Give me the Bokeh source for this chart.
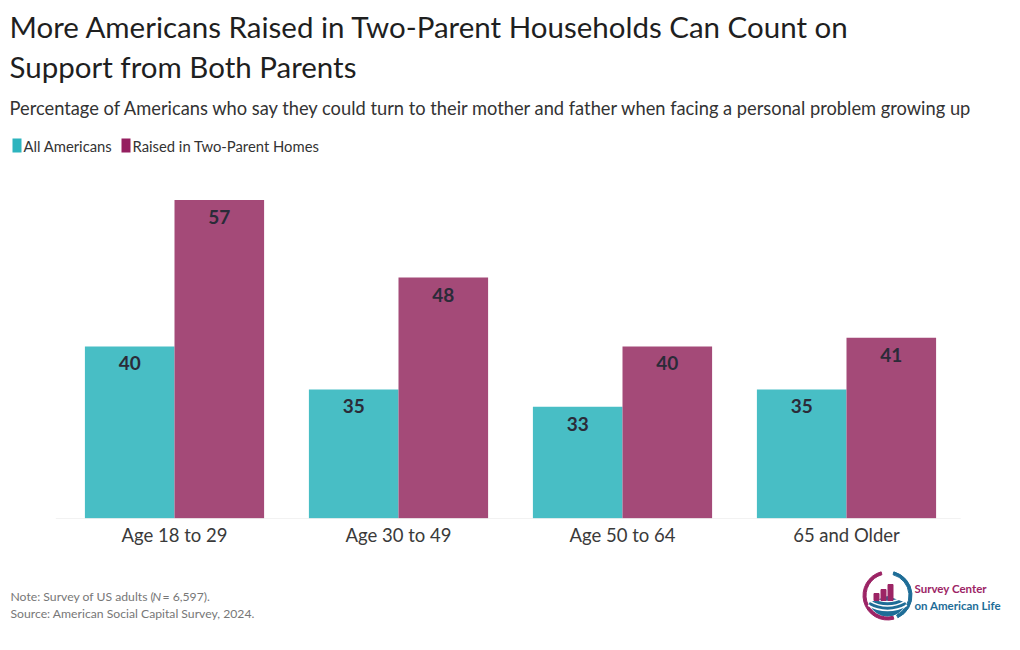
from math import radians
from bokeh.plotting import figure
from bokeh.models import FactorRange, Range1d, ColumnDataSource
from bokeh.transform import dodge
from bokeh.layouts import column
from bokeh.core.properties import value
from bokeh.embed import file_html
from bokeh.resources import INLINE

# ---------------- data ----------------
categories = ["Age 18 to 29", "Age 30 to 49", "Age 50 to 64", "65 and Older"]
all_americans = [40, 35, 33, 35]
two_parent = [57, 48, 40, 41]
series_names = ["All Americans", "Raised in Two-Parent Homes"]

title_lines = ["More Americans Raised in Two-Parent Households Can Count on",
               "Support from Both Parents"]
subtitle = ("Percentage of Americans who say they could turn to their mother and father "
            "when facing a personal problem growing up")
note_parts = ["Note: Survey of US adults (", "N", "= 6,597)."]
source_text = "Source: American Social Capital Survey, 2024."
logo_lines = ["Survey Center", "on American Life"]

TEAL = "#48BEC5"
MAGENTA = "#A44A78"
TEAL_KEY = "#2DB4BE"
MAGENTA_KEY = "#951F60"
LOGO_RED = "#9C2465"
LOGO_BLUE = "#1E6D97"
FONT = "Lato"
W = 1020


def blank(height, y_top, y_bottom):
    f = figure(width=W, height=height, x_range=Range1d(0, W),
               y_range=Range1d(y_bottom, y_top), x_axis_type=None, y_axis_type=None,
               output_backend="svg", toolbar_location=None, min_border=0)
    f.outline_line_color = None
    f.grid.visible = False
    return f


# ---------------- header ----------------
head = blank(172, 0, 172)
head.text(x=[9, 9], y=[26, 66], text=title_lines, text_font=value(FONT),
          text_font_size="29.5px", text_color="#1f1f1f", text_baseline="middle")
head.text(x=[9], y=[107.5], text=[subtitle], text_font=value(FONT),
          text_font_size="18.3px", text_color="#333333", text_baseline="middle")
# legend keys
head.rect(x=[16.5, 125.5], y=[145, 145], width=9, height=14,
          fill_color=[TEAL_KEY, MAGENTA_KEY], line_color=None)
head.text(x=[23, 132], y=[145, 145], text=series_names, text_font=value(FONT),
          text_font_size="14.8px", text_color="#333333", text_baseline="middle")

# ---------------- main chart ----------------
src = ColumnDataSource(dict(cat=categories, a=all_americans, b=two_parent,
                            la=[str(v) for v in all_americans],
                            lb=[str(v) for v in two_parent]))

p = figure(width=W, height=388, x_range=FactorRange(*categories, range_padding=0.1384),
           y_range=Range1d(20, 58), output_backend="svg", toolbar_location=None,
           y_axis_location=None, min_border_left=0, min_border_right=0,
           min_border_top=19, min_border_bottom=42)
p.outline_line_color = None
p.grid.visible = False

p.vbar(x=dodge("cat", -0.2, range=p.x_range), top="a", bottom=20, width=0.4,
       source=src, fill_color=TEAL, line_color=None)
p.vbar(x=dodge("cat", 0.2, range=p.x_range), top="b", bottom=20, width=0.4,
       source=src, fill_color=MAGENTA, line_color=None)

for col, lab, off in (("a", "la", -0.2), ("b", "lb", 0.2)):
    p.text(x=dodge("cat", off, range=p.x_range), y=col, text=lab, source=src,
           text_font=value(FONT), text_font_size="19px", text_font_style="bold",
           text_color="#2b2b38", text_align="center", text_baseline="middle",
           y_offset=17)

# baseline rule spanning the category area
p.segment(x0=[-0.03], x1=[4.01], y0=[20], y1=[20], line_color="#e6e6e6", line_width=1)

ax = p.xaxis[0]
ax.axis_line_color = None
ax.major_tick_line_color = None
ax.minor_tick_line_color = None
ax.major_label_standoff = -1
ax.major_label_text_font = FONT
ax.major_label_text_font_size = "18.5px"
ax.major_label_text_color = "#3a3a3a"

# ---------------- footer ----------------
foot = blank(90, 560, 650)
fs = "12.2px"
foot.text(x=[10], y=[596], text=[note_parts[0]], text_font=value(FONT),
          text_font_size=fs, text_color="#777777", text_baseline="middle")
foot.text(x=[152], y=[596], text=[note_parts[1]], text_font=value(FONT),
          text_font_size=fs, text_font_style="italic", text_color="#777777",
          text_baseline="middle")
foot.text(x=[162], y=[596], text=[note_parts[2]], text_font=value(FONT),
          text_font_size=fs, text_color="#777777", text_baseline="middle")
foot.text(x=[10], y=[613], text=[source_text], text_font=value(FONT),
          text_font_size=fs, text_color="#777777", text_baseline="middle")

# logo (angles are visual: 90 = up)
cx, cy = 887, 595
foot.annular_wedge(x=cx, y=cy, inner_radius=21.5, outer_radius=24.5,
                   start_angle=radians(105), end_angle=radians(285),
                   color=LOGO_RED)
foot.annular_wedge(x=cx, y=cy, inner_radius=21.5, outer_radius=24.5,
                   start_angle=radians(-65), end_angle=radians(75),
                   color=LOGO_BLUE)
foot.wedge(x=cx, y=cy + 1, radius=19.5, start_angle=radians(200),
           end_angle=radians(340), color=LOGO_BLUE)
foot.arc(x=cx, y=cy - 24, radius=[30, 34.5, 39], start_angle=radians(240),
         end_angle=radians(300), line_color="white", line_width=1.6)
foot.vbar(x=[876, 883, 890], bottom=[600, 600, 600], top=[593, 589, 584], width=5,
          color=LOGO_RED)
foot.text(x=[914, 914], y=[588, 605], text=logo_lines,
          text_font=value(FONT), text_font_size="11.5px", text_font_style="bold",
          text_color=[LOGO_RED, LOGO_BLUE], text_baseline="middle")

layout = column(head, p, foot, spacing=0)
open("out.html", "w").write(file_html(layout, INLINE))
